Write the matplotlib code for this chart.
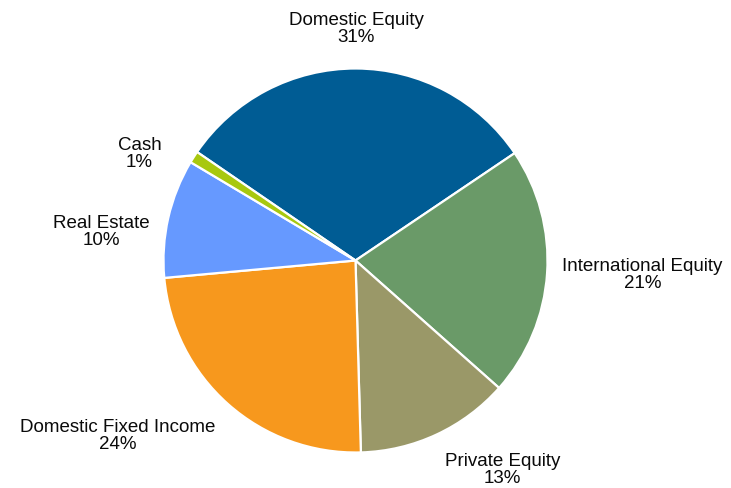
import numpy as np
import matplotlib
matplotlib.use("Agg")
import matplotlib.pyplot as plt

# slices, clockwise from the top
names = ["Domestic Equity", "International Equity", "Private Equity",
         "Domestic Fixed Income", "Real Estate", "Cash"]
shares = [31, 21, 13, 24, 10, 1]
colors = ["#005C94", "#6A9A68", "#9A9868", "#F7981D", "#6699FF", "#A8C80F"]

# label placement: (distance in radii, ha, va)
place = [(1.12, "center", "bottom"),
         (1.08, "left", "center"),
         (1.10, "left", "top"),
         (1.10, "right", "top"),
         (1.10, "right", "top"),
         (1.20, "right", "top")]

plt.rcParams['font.family'] = ['Liberation Sans', 'DejaVu Sans']

fig = plt.figure(figsize=(7.31, 4.89), dpi=100)
ax = fig.add_axes([0, 0, 1, 1])

cx, cy, R = 355.5, 227.5, 192
start = 145.6
wedges, _ = ax.pie(shares, colors=colors, startangle=start, counterclock=False,
                   center=(cx, cy), radius=R, frame=True,
                   wedgeprops=dict(edgecolor='white', linewidth=1.6))
ax.set_xlim(0, 731)
ax.set_ylim(0, 489)
ax.set_aspect('equal')
ax.axis('off')

for w, name, s, (d, ha, va) in zip(wedges, names, shares, place):
    mid = np.deg2rad((w.theta1 + w.theta2) / 2)
    x = cx + d * R * np.cos(mid)
    y = cy + d * R * np.sin(mid)
    ax.text(x, y, f"{name}\n{s}%", ha=ha, va=va, multialignment='center',
            fontsize=13.5, color='#0a0a0a', linespacing=1.0)

fig.savefig("out.png", dpi=100)
